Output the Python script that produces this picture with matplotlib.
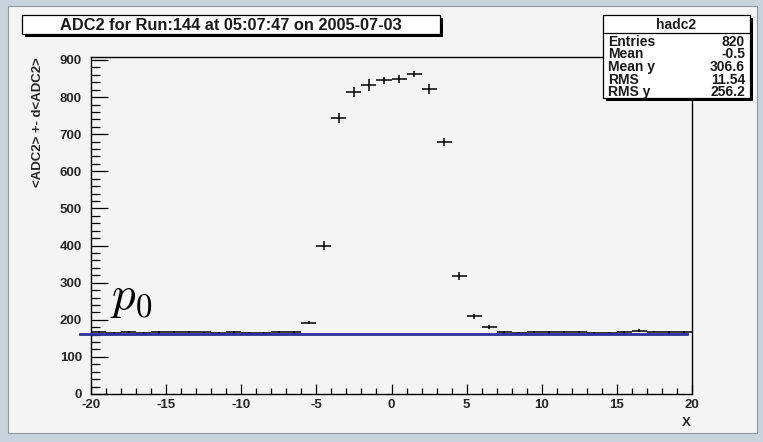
import numpy as np
import matplotlib
matplotlib.use("Agg")
import matplotlib.pyplot as plt
from matplotlib.patches import Rectangle
from matplotlib.ticker import MultipleLocator

plt.rcParams["axes.unicode_minus"] = False

# profile of ADC2 vs X, one bin per unit
bin_centers = np.arange(-19.5, 20.0, 1.0)
adc_mean = [168, 165, 168, 165, 166, 168, 168, 166, 165, 166,
            165, 165, 168, 166, 192, 399, 744, 813, 833, 845,
            849, 863, 822, 679, 318, 209, 181, 166, 165, 168,
            166, 168, 168, 165, 165, 166, 171, 168, 166, 166]
adc_err = [3, 2, 3, 2, 3, 3, 3, 2, 3, 3,
           2, 2, 3, 3, 4, 12, 13, 14, 16, 10,
           10, 8, 14, 12, 12, 7, 5, 3, 2, 3,
           3, 3, 3, 2, 2, 3, 3, 2, 3, 3]

# constant fit
p0 = 161.0
fit_range = (-20.7, 19.7)

stat_names = ["Entries", "Mean", "Mean y", "RMS", "RMS y"]
stat_values = ["820", "-0.5", "306.6", "11.54", "256.2"]

W, H = 763, 442
fig = plt.figure(figsize=(W / 100, H / 100), dpi=100)
fig.patch.set_facecolor("#c9d3dd")

def px(x, y, w, h):
    # pixel box (from top-left) -> figure fraction
    return (x / W, 1 - (y + h) / H, w / W, h / H)

fig.patches.append(Rectangle(px(8, 6, 749, 427)[:2], 749 / W, 427 / H,
                             transform=fig.transFigure, facecolor="#f4f4f4",
                             edgecolor="#8f979f", lw=0.8, zorder=-5))

ax = fig.add_axes(px(91, 57, 601, 337))
ax.set_zorder(1)
ax.set_facecolor("#f4f4f4")
ax.errorbar(bin_centers, adc_mean, yerr=adc_err, xerr=0.5, fmt="none",
            ecolor="black", elinewidth=1.1, capsize=0)
ax.plot(fit_range, [p0, p0], color="#2e2e9e", lw=2.0, clip_on=False, zorder=3)
ax.text(-18.75, 229, r"$p_0$", fontsize=34, math_fontfamily="cm",
        va="baseline", ha="left")

ax.set_xlim(-20, 20)
ax.set_ylim(0, 908)
ax.xaxis.set_major_locator(MultipleLocator(5))
ax.xaxis.set_minor_locator(MultipleLocator(1))
ax.yaxis.set_major_locator(MultipleLocator(100))
ax.yaxis.set_minor_locator(MultipleLocator(20))
ax.tick_params(axis="both", which="both", direction="in", width=0.9,
               colors="black", labelcolor="#262626")
ax.tick_params(axis="y", which="major", length=12, pad=6.5)
ax.tick_params(axis="y", which="minor", length=6.5)
ax.tick_params(axis="x", which="major", length=7.2, pad=3.5)
ax.tick_params(axis="x", which="minor", length=4.3)
for lab in ax.get_xticklabels() + ax.get_yticklabels():
    lab.set_fontweight("bold")
    lab.set_fontsize(9.5)
    lab.set_fontfamily("Liberation Sans")
for sp in ax.spines.values():
    sp.set_linewidth(1.0)

fig.text(691 / W, 1 - 423 / H, "X", ha="right", va="center",
         fontsize=9.5, fontweight="bold", family="Liberation Sans", color="#262626")
fig.text(38 / W, 1 - 57 / H, "<ADC2> +- d<ADC2>", rotation=90, ha="center",
         va="top", fontsize=9.5, fontweight="bold", family="Liberation Sans",
         color="#262626")

def shadow_box(x, y, w, h):
    fig.patches.append(Rectangle(px(x + 3, y + 3, w, h)[:2], w / W, h / H,
                                 transform=fig.transFigure, facecolor="black",
                                 edgecolor="none", zorder=5))
    fig.patches.append(Rectangle(px(x, y, w, h)[:2], w / W, h / H,
                                 transform=fig.transFigure, facecolor="white",
                                 edgecolor="black", lw=0.9, zorder=6))

# title box
shadow_box(22, 15, 418, 19)
fig.text((22 + 418 / 2) / W, 1 - 25 / H, "ADC2 for Run:144 at 05:07:47 on 2005-07-03",
         ha="center", va="center", fontsize=11.8, fontweight="bold",
         family="Liberation Sans", color="#1a1a1a", zorder=7)

# stats box
shadow_box(603, 15, 147, 83)
fig.text(676 / W, 1 - 25 / H, "hadc2", ha="center", va="center", fontsize=10,
         fontweight="bold", family="Liberation Sans", color="#1a1a1a", zorder=7)
fig.add_artist(plt.Line2D([603 / W, 750 / W], [1 - 33 / H, 1 - 33 / H],
                          color="black", lw=0.9, zorder=7))
for i, (name, val) in enumerate(zip(stat_names, stat_values)):
    yy = 1 - (42 + 12.5 * i) / H
    fig.text(608 / W, yy, name, ha="left", va="center", fontsize=10,
             fontweight="bold", family="Liberation Sans", color="#1a1a1a", zorder=7)
    fig.text(745 / W, yy, val, ha="right", va="center", fontsize=10,
             fontweight="bold", family="Liberation Sans", color="#1a1a1a", zorder=7)

fig.savefig("out.png", dpi=100, facecolor=fig.get_facecolor())
